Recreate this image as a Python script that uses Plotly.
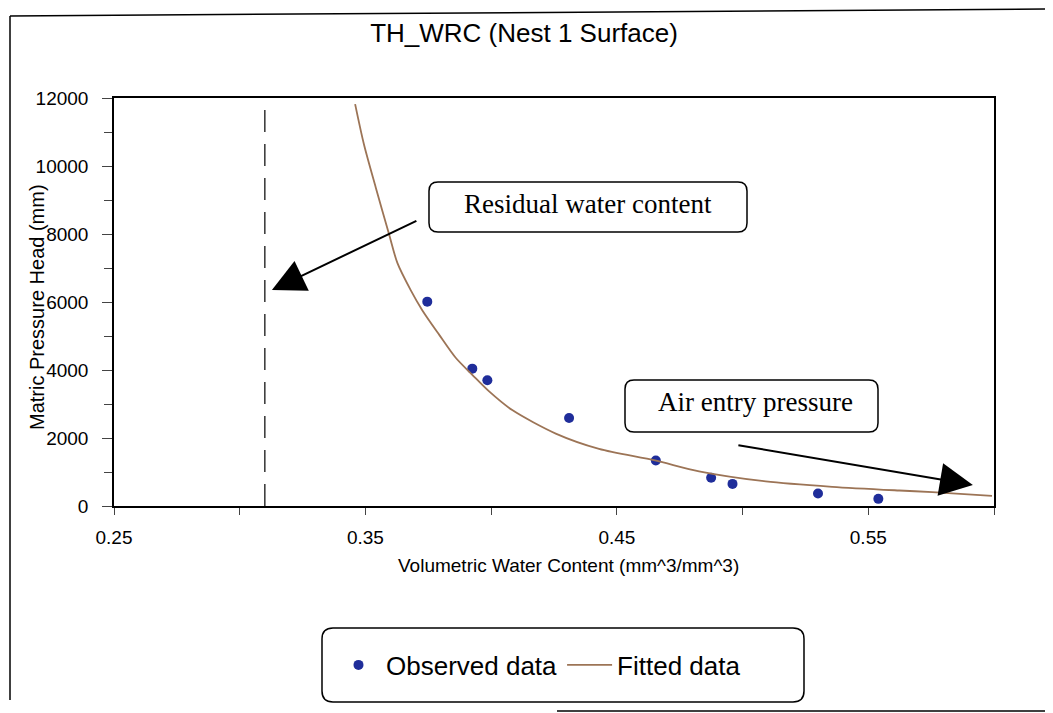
"""TH_WRC water retention curve, Nest 1 surface."""

import plotly.graph_objects as go

# observed points
theta_obs = [0.3746, 0.3925, 0.3985, 0.431, 0.4655, 0.4875, 0.496, 0.530, 0.554]
head_obs = [6010, 4040, 3700, 2590, 1340, 830, 650, 370, 210]

# fitted curve
theta_fit = [0.3459, 0.3494, 0.3541, 0.3594, 0.3627, 0.3680, 0.3726, 0.3793, 0.3859,
             0.3925, 0.3992, 0.4084, 0.4257, 0.4429, 0.4652, 0.4827, 0.5092, 0.5357,
             0.5623, 0.5755, 0.5992]
head_fit = [11820, 10640, 9370, 7990, 7150, 6350, 5760, 5040, 4360,
            3860, 3370, 2820, 2130, 1680, 1340, 1020, 724, 565,
            456, 410, 300]

residual_theta = 0.31
residual_top = 11800

SANS = "Liberation Sans, Arial, sans-serif"
SERIF = "Liberation Serif, Times New Roman, serif"

# page pixels; the html body adds an 8px margin around the figure
PAGE_OFF = 8
FIG_W, FIG_H = 1053 - PAGE_OFF, 713 - PAGE_OFF
L, R, T, B = 114, 994, 98, 506


def px_x(x):
    return (x - L) / (R - L)


def px_y(y):
    return (B - y) / (B - T)


def rounded_box(x0, y0, x1, y1, r):
    """Rounded rectangle path in paper coords from pixel corners."""
    pts = [
        ("M", x0 + r, y0), ("L", x1 - r, y0), ("Q", x1, y0, x1, y0 + r),
        ("L", x1, y1 - r), ("Q", x1, y1, x1 - r, y1), ("L", x0 + r, y1),
        ("Q", x0, y1, x0, y1 - r), ("L", x0, y0 + r), ("Q", x0, y0, x0 + r, y0),
    ]
    parts = []
    for p in pts:
        cmd, coords = p[0], p[1:]
        xy = []
        for i in range(0, len(coords), 2):
            xy.append(f"{px_x(coords[i]):.5f},{px_y(coords[i + 1]):.5f}")
        parts.append(cmd + " ".join(xy))
    return " ".join(parts) + " Z"


fig = go.Figure()
fig.add_trace(
    go.Scatter(
        x=theta_obs,
        y=head_obs,
        mode="markers",
        name="Observed data",
        marker={"color": "#1f2d9a", "size": 10},
    )
)
fig.add_trace(
    go.Scatter(
        x=theta_fit,
        y=head_fit,
        mode="lines",
        name="Fitted data",
        line={"color": "#9c7456", "width": 1.8, "shape": "spline", "smoothing": 0.8},
    )
)

box_line = {"color": "black", "width": 1.5}
shapes = [
    # residual water content
    dict(type="line", xref="x", yref="y", x0=residual_theta, x1=residual_theta,
         y0=0, y1=residual_top, line={"color": "black", "width": 1.2, "dash": "22px,12px"}),
    dict(type="path", xref="paper", yref="paper", path=rounded_box(429, 182, 747, 232, 9),
         line=box_line, fillcolor="white", layer="above"),
    dict(type="path", xref="paper", yref="paper", path=rounded_box(625, 380, 878, 432, 9),
         line=box_line, fillcolor="white", layer="above"),
    dict(type="path", xref="paper", yref="paper", path=rounded_box(322, 628, 804, 702, 11),
         line=box_line, layer="above"),
    # outer frame of the scanned chart
    dict(type="line", xref="paper", yref="paper", x0=px_x(10), x1=px_x(10),
         y0=px_y(16), y1=px_y(700), line=box_line),
    dict(type="line", xref="paper", yref="paper", x0=px_x(10), x1=px_x(1053),
         y0=px_y(16), y1=px_y(9), line=box_line),
    dict(type="line", xref="paper", yref="paper", x0=px_x(557), x1=px_x(1053),
         y0=px_y(711), y1=px_y(711), line=box_line),
]

annotations = [
    dict(xref="paper", yref="paper", x=px_x(588), y=px_y(204), xanchor="center", yanchor="middle",
         text="Residual water content", showarrow=False,
         font={"family": SERIF, "size": 27, "color": "black"}),
    dict(xref="paper", yref="paper", x=px_x(755), y=px_y(402), xanchor="center", yanchor="middle",
         text="Air entry pressure", showarrow=False,
         font={"family": SERIF, "size": 27, "color": "black"}),
    dict(x=0.3128, y=6350, xref="x", yref="y", text="", showarrow=True,
         ax=146, ay=-70, arrowhead=2, arrowsize=3.3, arrowwidth=2, arrowcolor="black"),
    dict(x=0.5916, y=620, xref="x", yref="y", text="", showarrow=True,
         ax=-236, ay=-40, arrowhead=2, arrowsize=3.3, arrowwidth=2, arrowcolor="black"),
    # axis titles placed where the original has them
    dict(xref="paper", yref="paper", x=px_x(37), y=px_y(307), xanchor="center", yanchor="middle",
         text="Matric Pressure Head (mm)", textangle=-90, showarrow=False,
         font={"family": SANS, "size": 20, "color": "black"}),
    dict(xref="paper", yref="paper", x=px_x(568), y=px_y(565), xanchor="center", yanchor="middle",
         text="Volumetric Water Content (mm^3/mm^3)", showarrow=False,
         font={"family": SANS, "size": 19, "color": "black"}),
]

fig.update_layout(
    width=FIG_W,
    height=FIG_H,
    margin={"l": L - PAGE_OFF, "r": FIG_W - (R - PAGE_OFF), "t": T - PAGE_OFF,
            "b": FIG_H - (B - PAGE_OFF), "pad": 0, "autoexpand": False},
    paper_bgcolor="white",
    plot_bgcolor="white",
    font={"family": SANS, "color": "black"},
    title={
        "text": "TH_WRC (Nest 1 Surface)",
        "x": (524 - PAGE_OFF) / FIG_W,
        "xanchor": "center",
        "y": 1 - (33 - PAGE_OFF) / FIG_H,
        "yanchor": "middle",
        "font": {"size": 26, "family": SANS},
    },
    xaxis={
        "range": [0.25, 0.60],
        "tick0": 0.25,
        "dtick": 0.1,
        "tickformat": ".2f",
        "ticks": "outside",
        "ticklen": 7,
        "ticklabelstandoff": 6,
        "minor": {"dtick": 0.05, "tick0": 0.25, "ticks": "outside", "ticklen": 7},
        "showgrid": False,
        "zeroline": False,
        "showline": True,
        "mirror": True,
        "linecolor": "black",
        "linewidth": 1.5,
        "automargin": False,
        "tickfont": {"size": 19},
    },
    yaxis={
        "range": [0, 12000],
        "dtick": 2000,
        "tickformat": "d",
        "ticks": "outside",
        "ticklen": 10,
        "ticklabelstandoff": 10,
        "minor": {"dtick": 1000, "ticks": "outside", "ticklen": 8},
        "showgrid": False,
        "zeroline": False,
        "showline": True,
        "mirror": True,
        "linecolor": "black",
        "linewidth": 1.5,
        "automargin": False,
        "tickfont": {"size": 19},
    },
    legend={
        "orientation": "h",
        "x": px_x(331),
        "xanchor": "left",
        "y": px_y(665),
        "yanchor": "middle",
        "font": {"size": 26},
        "itemwidth": 45,
        "bgcolor": "rgba(0,0,0,0)",
        "borderwidth": 0,
    },
    shapes=shapes,
    annotations=annotations,
)

fig.write_html("out.html")
